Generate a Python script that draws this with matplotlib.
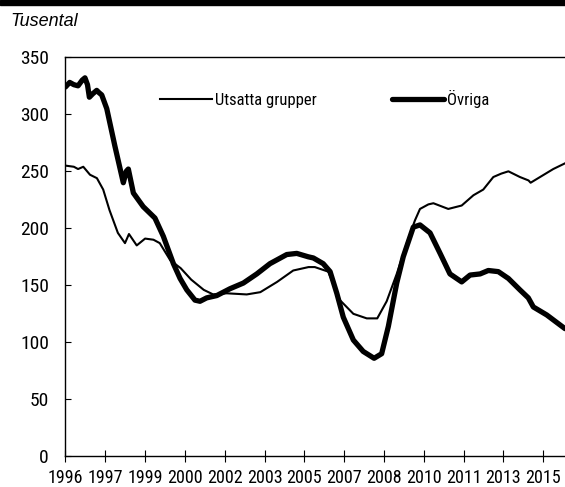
import matplotlib.pyplot as plt
from matplotlib import font_manager
from matplotlib.patches import Rectangle

# Månadsindex från jan 1996, värden i tusental
utsatta_man = [0, 4, 6, 8.5, 11.7, 15, 18, 21, 25, 28.4, 30.3, 34, 38, 42, 45, 50,
               55, 60, 66, 70.5, 77, 86.5, 93, 101, 108.7, 116, 119, 125.4, 131,
               137.4, 143.8, 148.8, 153.3, 158.1, 162.9, 166.8, 169.2, 173.2,
               175.6, 182.7, 189.1, 194.7, 199.4, 204.2, 208, 211.4, 216.9, 221,
               222, 226.5, 232.8, 238.4]
utsatta = [255, 254, 252, 254, 247, 244, 234, 216, 196, 187, 195, 185, 191, 190,
           187, 172, 165, 155, 146, 142, 143, 142, 144, 153, 163, 166, 166, 162,
           137, 125, 121, 121, 136, 160, 187, 207, 217, 221, 222, 217, 220, 229,
           234, 245, 248, 250, 245, 242, 240, 245, 252, 257]

ovriga_man = [0, 2, 4, 6, 8, 9.3, 10.5, 11.4, 13, 14.9, 16, 17.3, 19.7, 23.6, 27.6,
              29, 30, 32.4, 37.1, 42.7, 46.7, 51.5, 54.7, 57.9, 61.8, 64.2, 67.4,
              72.2, 78.5, 84.9, 91.3, 97.6, 105.6, 110.4, 115.9, 118.3, 123, 126.3,
              129.5, 132.6, 137.4, 142.1, 147.3, 150.9, 154.1, 158.1, 161.2, 166,
              169.2, 174, 178.8, 183.5, 189.1, 193.1, 197.9, 201.8, 206.6, 211.4,
              216.9, 220.9, 223.3, 229.7, 238.4]
ovriga = [324, 328, 326, 325, 330, 332, 326, 315, 318, 321, 319, 317, 305, 272, 240,
          250, 252, 231, 219, 209, 193, 169, 156, 146, 137, 136, 139, 141, 147, 152,
          160, 169, 177, 178, 175, 174, 169, 162, 143, 122, 102, 92, 86, 90, 114,
          152, 175, 201, 203, 196, 178, 160, 153, 159, 160, 163, 162, 156, 146, 139,
          131, 124, 112]

ar_etiketter = ['1996', '1997', '1999', '2000', '2002', '2003', '2005', '2007',
                '2008', '2010', '2011', '2013', '2015']

# smal typsnitt om det finns, annars DejaVu Sans
namn = {f.name for f in font_manager.fontManager.ttflist}
smal = 'DejaVu Sans'
for kandidat in ['Liberation Sans Narrow', 'Roboto Condensed', 'Open Sans Condensed']:
    if kandidat in namn:
        smal = kandidat
        break
smal_finns = smal != 'DejaVu Sans'
fs_y = 14 if smal_finns else 10
fs_x = 13 if smal_finns else 9.5
fs_leg = 12 if smal_finns else 10

plt.rcParams['font.family'] = [smal, 'DejaVu Sans']

fig = plt.figure(figsize=(5.65, 4.87), dpi=100)
ax = fig.add_axes([0.1159, 0.063, 0.89, 0.8193])

# svart titelrad, avklippt upptill
fig.add_artist(Rectangle((0, 1 - 4.5 / 487), 1, 4.5 / 487, transform=fig.transFigure,
                         color='black', clip_on=False))

ax.plot(utsatta_man, utsatta, color='black', lw=1.5, label='Utsatta grupper')
ax.plot(ovriga_man, ovriga, color='black', lw=3.8, label='Övriga',
        solid_capstyle='round')

ax.set_xlim(0, 240)
ax.set_ylim(0, 350)
ax.set_yticks(range(0, 351, 50))
ax.set_xticks([i * 19 for i in range(len(ar_etiketter))])
ax.set_xticklabels(ar_etiketter)

ax.tick_params(axis='y', direction='in', length=4, labelsize=fs_y, pad=12)
ax.tick_params(axis='x', direction='inout', length=8, labelsize=fs_x, pad=5)
for s in ax.spines.values():
    s.set_linewidth(1.0)

ax.legend(loc='upper left', bbox_to_anchor=(0.175, 0.935), ncol=2, frameon=False,
          fontsize=fs_leg, handlelength=3.1, handletextpad=0.2, columnspacing=4.5,
          borderaxespad=0)

fig.text(10 / 565, 1 - 21 / 487, 'Tusental', fontsize=13, style='italic',
         family=['Liberation Sans', 'DejaVu Sans'], va='center')

fig.savefig('out.png', dpi=100)
